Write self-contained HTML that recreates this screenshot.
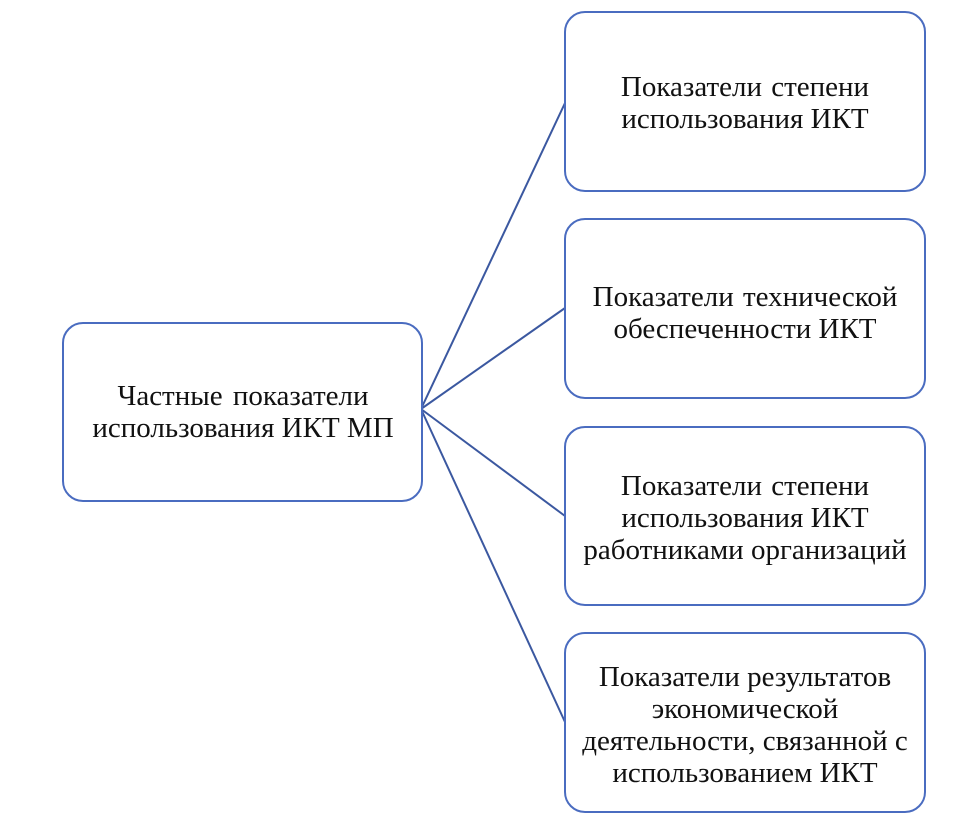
<!DOCTYPE html>
<html><head><meta charset="utf-8"><style>
html,body{margin:0;padding:0;background:#fff;}
svg{display:block;}
text{font-family:"Liberation Serif",serif;font-size:29px;fill:#111;text-anchor:middle;}
</style></head><body>
<svg width="960" height="827" viewBox="0 0 960 827" xmlns="http://www.w3.org/2000/svg">
<g stroke="#3b58a0" stroke-width="2" fill="none">
<line x1="421" y1="409" x2="565" y2="103"/>
<line x1="421" y1="409" x2="565" y2="308"/>
<line x1="421" y1="409" x2="565" y2="516"/>
<line x1="421" y1="409" x2="565" y2="722"/>
</g>
<g stroke="#4a6cc0" stroke-width="2" fill="#fff">
<rect x="63" y="323" width="359" height="178" rx="20"/>
<rect x="565" y="12" width="360" height="179" rx="20"/>
<rect x="565" y="219" width="360" height="179" rx="20"/>
<rect x="565" y="427" width="360" height="178" rx="20"/>
<rect x="565" y="633" width="360" height="179" rx="20"/>
</g>
<text x="243" y="405" word-spacing="3">Частные показатели</text>
<text x="243" y="437">использования ИКТ МП</text>
<text x="745" y="96" word-spacing="2">Показатели степени</text>
<text x="745" y="128">использования ИКТ</text>
<text x="745" y="306" word-spacing="2">Показатели технической</text>
<text x="745" y="338">обеспеченности ИКТ</text>
<text x="745" y="495" word-spacing="2">Показатели степени</text>
<text x="745" y="527">использования ИКТ</text>
<text x="745" y="559">работниками организаций</text>
<text x="745" y="686">Показатели результатов</text>
<text x="745" y="718">экономической</text>
<text x="745" y="750">деятельности, связанной с</text>
<text x="745" y="782">использованием ИКТ</text>
</svg>
</body></html>
